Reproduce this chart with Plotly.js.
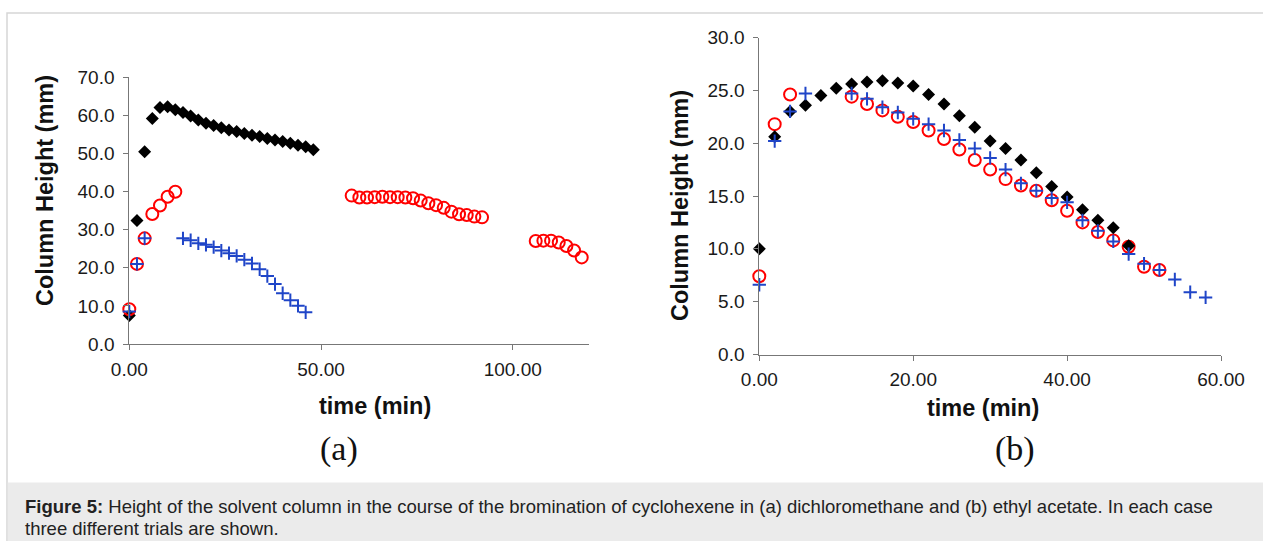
<!DOCTYPE html>
<html>
<head>
<meta charset="utf-8">
<script src="https://cdn.plot.ly/plotly-3.0.1.min.js"></script>
<style>
  html, body { margin: 0; padding: 0; background: #ffffff; }
  #chart { width: 1263px; height: 541px; }
</style>
</head>
<body>
<div id="chart"></div>
<script>
// Panel (a): dichloromethane, three trials
const aTrial1Time = [0,2,4,6,8,10,12,14,16,18,20,22,24,26,28,30,32,34,36,38,40,42,44,46,48];
const aTrial1Height = [7.5,32.4,50.4,59.1,62.0,62.2,61.4,60.7,59.8,58.7,57.9,57.3,56.7,56.1,55.7,55.2,54.7,54.4,53.9,53.5,53.1,52.6,52.1,51.7,50.9];

const aTrial2Time = [0,2,4,6,8,10,12,
  58,60,62,64,66,68,70,72,74,76,78,80,82,84,86,88,90,92,
  106,108,110,112,114,116,118];
const aTrial2Height = [9.1,21.0,27.7,34.1,36.3,38.6,39.9,
  38.9,38.4,38.4,38.5,38.6,38.5,38.5,38.4,38.2,37.6,36.9,36.4,35.7,34.7,34.0,33.8,33.4,33.2,
  27.0,27.1,27.1,26.6,25.7,24.5,22.7];

const aTrial3Time = [0,2,4,14,16,18,20,22,24,26,28,30,32,34,36,38,40,42,44,46];
const aTrial3Height = [8.5,21.0,27.7,27.7,27.2,26.4,26.0,25.4,24.5,23.8,23.1,22.1,21.1,19.6,17.8,15.7,13.3,11.5,10.0,8.3];

// Panel (b): ethyl acetate, three trials
const bTrial1Time = [0,2,4,6,8,10,12,14,16,18,20,22,24,26,28,30,32,34,36,38,40,42,44,46,48];
const bTrial1Height = [10.0,20.6,23.0,23.6,24.5,25.2,25.6,25.8,25.9,25.7,25.4,24.6,23.7,22.6,21.5,20.2,19.5,18.4,17.2,15.9,14.9,13.7,12.7,12.0,10.3];

const bTrial2Time = [0,2,4,12,14,16,18,20,22,24,26,28,30,32,34,36,38,40,42,44,46,48,50,52];
const bTrial2Height = [7.4,21.8,24.6,24.4,23.7,23.1,22.5,22.0,21.2,20.4,19.4,18.4,17.5,16.6,16.0,15.5,14.6,13.6,12.5,11.6,10.8,10.2,8.3,8.0];

const bTrial3Time = [0,2,4,6,12,14,16,18,20,22,24,26,28,30,32,34,36,38,40,42,44,46,48,50,52,54,56,58];
const bTrial3Height = [6.6,20.2,23.0,24.7,24.7,24.2,23.4,22.9,22.3,21.8,21.2,20.3,19.5,18.6,17.5,16.2,15.5,14.8,14.4,12.7,11.7,10.7,9.5,8.6,8.0,7.1,5.9,5.4];

const aXTicks = [0, 50, 100];
const bXTicks = [0, 20, 40, 60];

const W = 1263, H = 541;
const px = x => x / W;
const py = y => 1 - y / H;

const FONT = 'Liberation Sans, Arial, sans-serif';
const SERIF = 'Liberation Serif, Times New Roman, serif';
const diamond = { symbol: 'diamond', size: 10, color: '#000000', line: { width: 0 } };
const ring = { symbol: 'circle-open', size: 12, color: '#ff0000', line: { width: 2, color: '#ff0000' } };
const plus = { symbol: 'cross-thin-open', size: 9.5, color: '#1f45c8', line: { width: 2, color: '#1f45c8' } };

function pts(x, y, marker, xa, ya) {
  return { type: 'scatter', mode: 'markers', x: x, y: y, marker: marker,
           xaxis: xa, yaxis: ya, cliponaxis: false, hoverinfo: 'x+y' };
}

const traces = [
  pts(aTrial1Time, aTrial1Height, diamond, 'x', 'y'),
  pts(aTrial2Time, aTrial2Height, ring, 'x', 'y'),
  pts(aTrial3Time, aTrial3Height, plus, 'x', 'y'),
  pts(bTrial2Time, bTrial2Height, ring, 'x2', 'y2'),
  pts(bTrial1Time, bTrial1Height, diamond, 'x2', 'y2'),
  pts(bTrial3Time, bTrial3Height, plus, 'x2', 'y2')
];

const axisBase = {
  showline: true, linecolor: '#777777', linewidth: 1,
  ticks: 'outside', ticklen: 5, tickcolor: '#777777', tickwidth: 1,
  showgrid: false, zeroline: false, fixedrange: true,
  tickfont: { family: FONT, size: 19, color: '#1a1a1a' }
};
const xBase = Object.assign({}, axisBase, { ticklabelstandoff: 3 });
const yBase = Object.assign({}, axisBase, { ticklabelstandoff: 5 });

const titleFont = { family: FONT, size: 23.5, color: '#111111' };
const captionFont = { family: FONT, size: 18.5, color: '#222222' };

function note(x, y, text, extra) {
  return Object.assign({ xref: 'paper', yref: 'paper', x: px(x), y: py(y), text: text,
    showarrow: false, xanchor: 'center', yanchor: 'middle' }, extra);
}

const layout = {
  width: W, height: H,
  margin: { l: 0, r: 0, t: 0, b: 0 },
  paper_bgcolor: '#ffffff', plot_bgcolor: 'rgba(0,0,0,0)',
  showlegend: false,
  xaxis: Object.assign({}, xBase, {
    domain: [px(129.3), px(589.4)], range: [0, 120], anchor: 'y',
    tickmode: 'array', tickvals: aXTicks, tickformat: '.2f'
  }),
  yaxis: Object.assign({}, yBase, {
    domain: [py(344), py(77)], range: [0, 70], anchor: 'x',
    dtick: 10, tick0: 0, tickformat: '.1f'
  }),
  xaxis2: Object.assign({}, xBase, {
    domain: [px(759.3), px(1221)], range: [0, 60], anchor: 'y2',
    tickmode: 'array', tickvals: bXTicks, tickformat: '.2f'
  }),
  yaxis2: Object.assign({}, yBase, {
    domain: [py(354.5), py(37.5)], range: [0, 30], anchor: 'x2',
    dtick: 5, tick0: 0, tickformat: '.1f'
  }),
  shapes: [
    { type: 'rect', xref: 'paper', yref: 'paper', layer: 'below',
      x0: px(7), x1: px(1275), y0: py(560), y1: py(13),
      line: { color: '#d6d6d6', width: 1.5 }, fillcolor: '#ffffff' },
    { type: 'rect', xref: 'paper', yref: 'paper', layer: 'below',
      x0: px(7.8), x1: px(1275), y0: py(560), y1: py(482.5),
      line: { width: 0 }, fillcolor: '#ebebeb' }
  ],
  annotations: [
    note(45, 191, '<b>Column Height (mm)</b>', { textangle: -90, font: titleFont }),
    note(375, 406, '<b>time (min)</b>', { font: titleFont }),
    note(680, 206, '<b>Column Height (mm)</b>', { textangle: -90, font: titleFont }),
    note(983, 408, '<b>time (min)</b>', { font: titleFont }),
    note(339, 449, '(a)', { font: { family: SERIF, size: 34, color: '#111111' } }),
    note(1015, 449, '(b)', { font: { family: SERIF, size: 34, color: '#111111' } }),
    note(23, 506, '<b>Figure 5:</b> Height of the solvent column in the course of the bromination of cyclohexene in (a) dichloromethane and (b) ethyl acetate. In each case',
      { xanchor: 'left', align: 'left', font: captionFont }),
    note(23, 528, 'three different trials are shown.',
      { xanchor: 'left', align: 'left', font: captionFont })
  ]
};

Plotly.newPlot('chart', traces, layout, { staticPlot: true, displayModeBar: false });
</script>
</body>
</html>
